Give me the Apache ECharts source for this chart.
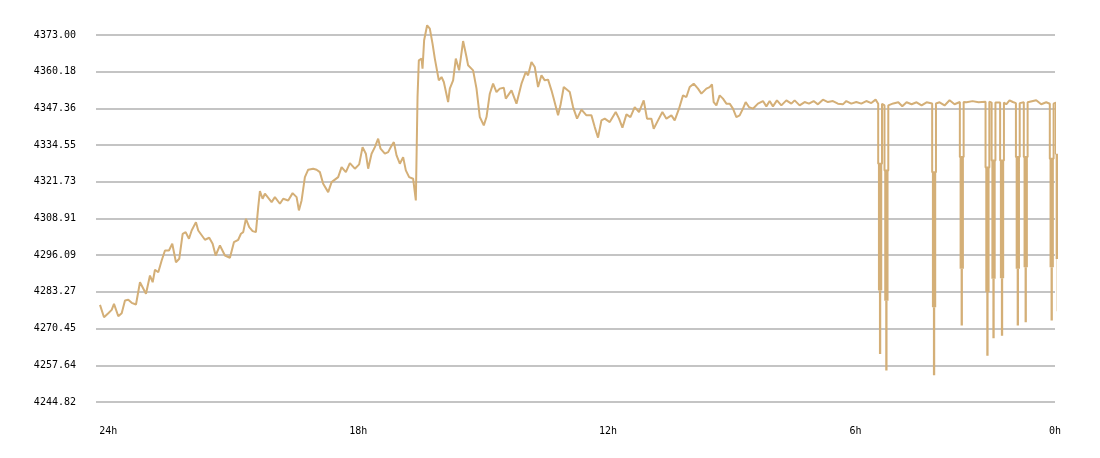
<!DOCTYPE html>
<html lang="en">
<head>
    <meta charset="UTF-8">
    <title>24h price</title>
    <script src="https://cdn.jsdelivr.net/npm/echarts@6/dist/echarts.min.js"></script>
    <style>
        html, body {
            margin: 0;
            padding: 0;
            background: #fff;
        }

        #chart {
            width: 1100px;
            height: 458px;
        }
    </style>
</head>
<body>
<div id="chart"></div>
<script>
    // time position of each sample (left = 24h ago, right = now)
    var times = [
        4, 8, 12.3, 15.7, 18, 22.3, 25.7, 29, 32.3, 35.7, 40, 44, 50, 54, 56.7, 59, 62.3, 65.7, 69, 73,
        76.3, 80, 83.3, 86.7, 89.7, 93, 95.7, 100, 102.3, 109, 113.3, 116.7, 119.7, 124, 129, 134, 138, 142.3, 145, 147.3,
        150, 153.3, 156.7, 160, 162.3, 164, 166.7, 169, 175.7, 179, 184, 187.3, 192.3, 196.7, 200.7, 203, 205.7, 209, 212.3, 217.3,
        220.7, 224, 227.3, 232.3, 235.7, 242.3, 245.7, 250, 254, 259, 263.3, 266.7, 270, 272.3, 275.7, 279, 282.3, 284.7, 289, 292.3,
        295, 298, 300.7, 304, 307.3, 310, 313.3, 317.3, 320, 321.7, 323, 325.7, 326.7, 328.3, 331.3, 334, 336.7, 339, 340.7, 343,
        345.7, 348, 352.3, 354, 357.3, 360, 363.3, 367.3, 370.7, 372.3, 377.3, 380.7, 384, 388, 390.7, 394, 397.3, 400.7, 404, 408,
        410, 415.7, 420.7, 425.7, 430, 432.3, 435.7, 439, 442.3, 445.7, 449, 452.3, 455.7, 458, 462.3, 464.7, 468, 474, 477.3, 481.3,
        485.7, 490.7, 495.7, 499, 502.3, 505.7, 509, 514, 520, 523.3, 526.7, 530.7, 534.7, 539, 543.3, 548, 551.3, 555.7, 558, 562.3,
        566.7, 570.7, 575.7, 579, 583.3, 587.3, 590.7, 594, 598, 602.3, 605.7, 610.7, 614, 616.3, 618, 620.7, 624, 627.3, 630.7, 634,
        637.3, 640.7, 644, 647.3, 650, 653.3, 657.3, 662.3, 667.3, 670.7, 674, 677.3, 681.3, 685.7, 690.7, 695.7, 699, 704, 709, 713.3,
        718, 722.3, 727.3, 732.3, 737.3, 742.3, 747.3, 750.7, 755.7, 760.7, 765.7, 770.7, 775.7, 780,
        786.8, 797.7, 802.7, 806.7, 811, 816, 821, 826, 831,
        844, 849, 854, 859,
        871, 877, 883,
        894.4, 901.5,
        910.7, 914, 917.3,
        926.2,
        934, 940.7, 945.7, 950.7,
        959.2
    ]

    var prices = [
        4278.76, 4274.43, 4275.83, 4277.01, 4279.11, 4274.78, 4275.83, 4280.26, 4280.51, 4279.46,
        4278.87, 4286.66, 4282.61, 4289.00, 4286.66, 4291.00, 4290.16, 4294.25, 4297.74, 4297.74,
        4300.08, 4293.65, 4294.84, 4303.58, 4304.14, 4301.83, 4304.73, 4307.63, 4304.73, 4301.48,
        4302.18, 4300.08, 4295.99, 4299.49, 4295.99, 4295.19, 4300.64, 4301.48, 4303.58, 4304.14,
        4308.82, 4305.89, 4304.49, 4304.14, 4312.88, 4318.47, 4315.81, 4317.56, 4314.63, 4316.37,
        4314.06, 4315.81, 4315.22, 4317.77, 4316.37, 4311.72, 4315.22, 4323.36, 4325.95, 4326.30,
        4325.95, 4325.11, 4321.06, 4318.12, 4321.62, 4323.36, 4326.86, 4325.11, 4328.26, 4326.30,
        4327.80, 4333.85, 4331.54, 4326.30, 4331.54, 4333.85, 4336.79, 4333.29, 4331.54, 4332.10,
        4333.85, 4335.60, 4330.95, 4328.05, 4330.36, 4325.71, 4323.36, 4322.80, 4315.22, 4351.33,
        4364.16, 4364.75, 4361.26, 4371.15, 4376.39, 4375.24, 4369.99, 4364.75, 4364.75, 4357.17,
        4358.32, 4356.57, 4349.58, 4354.27, 4357.17, 4364.75, 4360.66, 4370.90, 4365.31, 4362.41,
        4360.66, 4354.27, 4344.34, 4341.44, 4344.34, 4352.50, 4356.01, 4353.08, 4354.27, 4354.61,
        4350.77, 4353.67, 4349.02, 4356.01, 4360.07, 4358.91, 4363.56, 4361.82, 4354.82, 4358.91,
        4357.17, 4357.41, 4353.67, 4350.77, 4344.93, 4348.43, 4354.82, 4353.08, 4347.83, 4343.78,
        4346.92, 4344.93, 4344.93, 4340.84, 4337.14, 4343.18, 4343.78, 4342.59, 4346.09, 4343.78,
        4340.63, 4345.28, 4344.34, 4347.83, 4346.09, 4350.17, 4343.78, 4343.78, 4340.28, 4343.18,
        4346.09, 4343.78, 4344.93, 4343.18, 4347.27, 4351.92, 4351.33, 4354.82, 4356.01, 4354.27,
        4352.52, 4354.27, 4354.82, 4355.77, 4349.58, 4348.43, 4351.92, 4350.77, 4349.02, 4349.02,
        4347.27, 4344.34, 4344.93, 4347.27, 4349.58, 4347.83, 4347.27, 4349.02, 4349.93, 4348.08,
        4349.93, 4348.08, 4350.17, 4348.43, 4350.17, 4349.02, 4350.17, 4348.43, 4349.58, 4349.02,
        4349.93, 4348.78, 4350.42, 4349.58, 4349.93, 4349.02, 4348.78, 4349.93, 4349.02, 4349.58,
        4349.02, 4349.93, 4349.23, 4350.42,
        4348.6, 4349.1, 4349.5, 4348.1, 4349.5, 4348.8, 4349.5, 4348.4, 4349.5,
        4349.5, 4348.4, 4350.2, 4348.8,
        4349.5, 4349.9, 4349.5,
        4349.5, 4349.5,
        4348.8, 4350.2, 4349.6,
        4349.8,
        4349.6, 4350.2, 4348.8, 4349.5,
        4349.5
    ]

    // sharp drops in the last hours: start time, level before, and the three depths of each drop
    var dropTimes = [782.6, 788.9, 836.6, 864.3, 890, 896.1, 904.6, 920.4, 928.3, 954.3, 960.4]
    var dropBase = [4349.0, 4348.4, 4349.1, 4349.6, 4349.7, 4349.4, 4349.4, 4349.2, 4349.5, 4349.0, 4349.4]
    var dropUpper = [4328.0, 4325.7, 4325.1, 4330.4, 4326.7, 4329.2, 4329.2, 4330.4, 4330.4, 4329.8, 4331.5]
    var dropMiddle = [4283.8, 4280.2, 4277.9, 4291.4, 4283.2, 4287.9, 4288.0, 4291.4, 4291.9, 4291.9, 4294.8]
    var dropLow = [4261.6, 4255.8, 4254.2, 4271.5, 4261.0, 4267.1, 4268.0, 4271.5, 4272.7, 4273.3, 4276.5]

    // x axis tick positions and their labels
    var xTickAt = [12.3, 262.3, 512.3, 760, 959.5]
    var xTickLabels = ['24h', '18h', '12h', '6h', '0h']

    // y axis labels from bottom to top
    var yTickLabels = ['4244.82', '4257.64', '4270.45', '4283.27', '4296.09', '4308.91',
        '4321.73', '4334.55', '4347.36', '4360.18', '4373.00']

    var yMin = +yTickLabels[0]
    var yMax = +yTickLabels[yTickLabels.length - 1]
    var yStep = (yMax - yMin) / (yTickLabels.length - 1)

    var lineColor = '#d4af77'
    var dropWidth = 3.8 // time between the down stroke and the up stroke of a drop

    // main line: every drop leaves the level, goes down to its upper depth and comes back
    var mainPoints = []
    var bodyPoints = []
    var tailPoints = []
    var k = 0

    function addDrop (k) {
        var t = dropTimes[k]
        var mid = t + dropWidth / 2
        mainPoints.push([t, dropBase[k]], [t, dropUpper[k]], [t + dropWidth, dropUpper[k]], [t + dropWidth, dropBase[k]])
        bodyPoints.push([mid, dropUpper[k]], [mid, dropMiddle[k]], null)
        tailPoints.push([mid, dropMiddle[k]], [mid, dropLow[k]], null)
    }

    times.forEach(function (t, i) {
        while (k < dropTimes.length && dropTimes[k] < t) {
            addDrop(k)
            k++
        }
        mainPoints.push([t, prices[i]])
    })
    while (k < dropTimes.length) {
        addDrop(k)
        k++
    }

    var chart = echarts.init(document.getElementById('chart'))
    var option = {
        animation: false,
        grid: {
            left: 96,
            right: 45,
            top: 35,
            bottom: 56
        },
        xAxis: {
            type: 'value',
            min: 0,
            max: 959.5,
            axisLine: {show: false},
            axisTick: {show: false},
            splitLine: {show: false},
            axisLabel: {
                customValues: xTickAt,
                margin: 24,
                color: '#000',
                fontFamily: 'DejaVu Sans Mono',
                fontSize: 10,
                formatter: function (val) {
                    var best = 0
                    xTickAt.forEach(function (p, i) {
                        if (Math.abs(p - val) < Math.abs(xTickAt[best] - val)) best = i
                    })
                    return xTickLabels[best]
                }
            }
        },
        yAxis: {
            type: 'value',
            min: yMin,
            max: yMax,
            interval: yStep,
            axisLine: {show: false},
            axisTick: {show: false},
            axisLabel: {
                margin: 20,
                color: '#000',
                fontFamily: 'DejaVu Sans Mono',
                fontSize: 10,
                padding: [4, 0, 0, 0],
                formatter: function (val) {
                    return yTickLabels[Math.round((val - yMin) / yStep)]
                }
            },
            splitLine: {
                lineStyle: {color: '#c4c4c4', width: 2}
            }
        },
        series: [{
            type: 'line',
            data: mainPoints,
            showSymbol: false,
            clip: false,
            lineStyle: {color: lineColor, width: 2}
        }, {
            type: 'line',
            data: bodyPoints,
            showSymbol: false,
            clip: false,
            lineStyle: {color: lineColor, width: 4.3}
        }, {
            type: 'line',
            data: tailPoints,
            showSymbol: false,
            clip: false,
            lineStyle: {color: lineColor, width: 2.3}
        }]
    }
    chart.setOption(option)
</script>
</body>
</html>
